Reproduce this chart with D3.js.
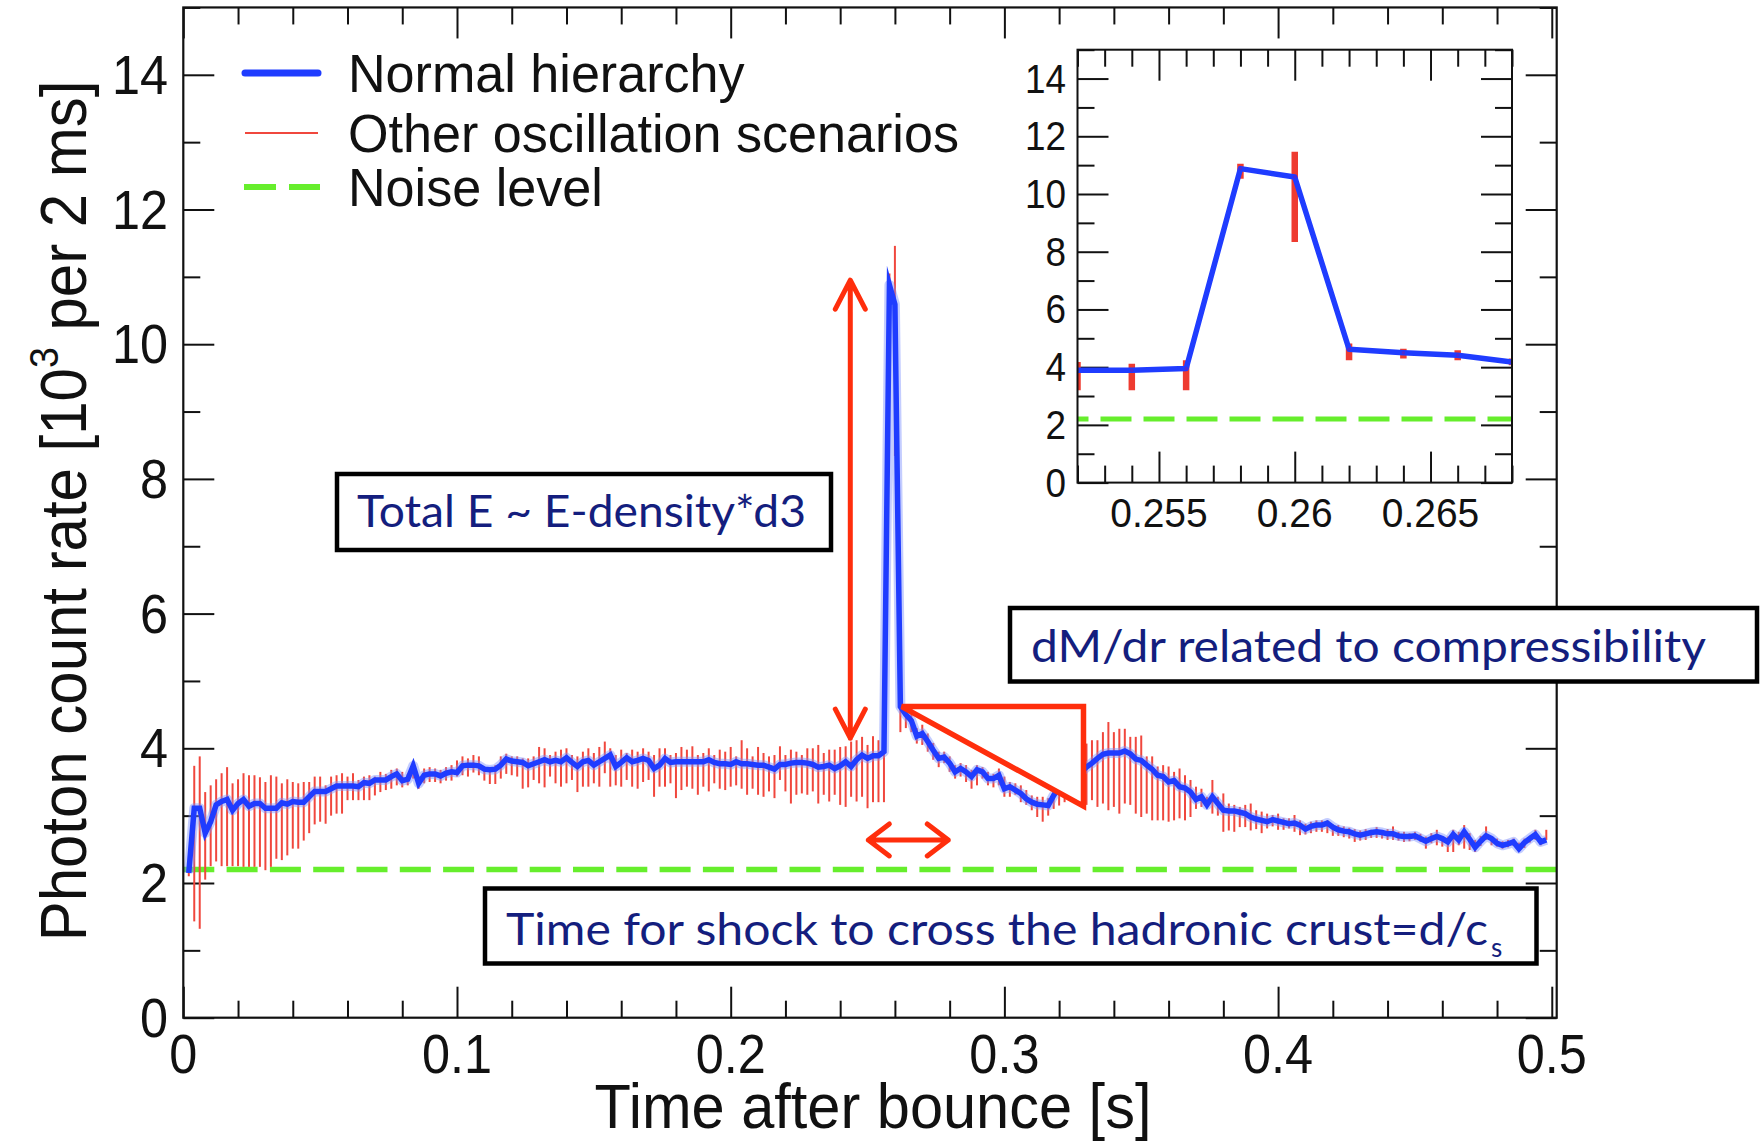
<!DOCTYPE html>
<html>
<head>
<meta charset="utf-8">
<script src="https://cdn.jsdelivr.net/npm/d3@7"></script>
<style>
  body { margin: 0; background: #fff; }
  svg { display: block; }
</style>
</head>
<body>
<svg id="chart" width="1760" height="1143"></svg>
<script>
// Photon count rate per 2 ms bin (units of 10^3), bins centred from 2 ms to 498 ms after bounce
const binWidth = 0.002;
const photonRate = [
  2.15, 3.11, 3.11, 2.74, 2.91, 3.16, 3.21, 3.24, 3.08, 3.18,
  3.24, 3.14, 3.18, 3.18, 3.11, 3.11, 3.11, 3.19, 3.17, 3.21,
  3.20, 3.20, 3.28, 3.36, 3.36, 3.36, 3.40, 3.44, 3.44, 3.44,
  3.44, 3.43, 3.49, 3.48, 3.53, 3.53, 3.53, 3.58, 3.62, 3.52,
  3.54, 3.74, 3.48, 3.60, 3.62, 3.62, 3.59, 3.63, 3.65, 3.64,
  3.74, 3.75, 3.75, 3.74, 3.69, 3.68, 3.69, 3.75, 3.84, 3.81,
  3.80, 3.79, 3.74, 3.77, 3.80, 3.83, 3.80, 3.82, 3.80, 3.86,
  3.79, 3.73, 3.80, 3.82, 3.75, 3.80, 3.85, 3.90, 3.73, 3.79,
  3.86, 3.80, 3.82, 3.85, 3.82, 3.70, 3.75, 3.85, 3.79, 3.80,
  3.80, 3.80, 3.80, 3.80, 3.80, 3.83, 3.79, 3.77, 3.77, 3.76,
  3.80, 3.77, 3.77, 3.76, 3.75, 3.75, 3.72, 3.69, 3.76, 3.76,
  3.78, 3.79, 3.79, 3.78, 3.76, 3.72, 3.73, 3.75, 3.70, 3.74,
  3.80, 3.73, 3.83, 3.90, 3.85, 3.89, 3.89, 3.95, 10.88, 10.59,
  4.62, 4.50, 4.41, 4.18, 4.22, 4.10, 3.97, 3.85, 3.87, 3.78,
  3.65, 3.70, 3.65, 3.58, 3.68, 3.65, 3.55, 3.55, 3.60, 3.40,
  3.43, 3.38, 3.33, 3.25, 3.20, 3.17, 3.16, 3.15, 3.30, 3.42,
  3.50, 3.55, 3.60, 3.65, 3.72, 3.78, 3.85, 3.91, 3.93, 3.93,
  3.93, 3.96, 3.92, 3.84, 3.82, 3.75, 3.69, 3.60, 3.58, 3.50,
  3.52, 3.43, 3.41, 3.35, 3.24, 3.28, 3.16, 3.28, 3.18, 3.08,
  3.07, 3.07, 3.05, 3.03, 2.98, 2.95, 2.93, 2.91, 2.94, 2.92,
  2.90, 2.88, 2.89, 2.86, 2.80, 2.84, 2.86, 2.86, 2.89, 2.83,
  2.79, 2.77, 2.76, 2.73, 2.71, 2.73, 2.75, 2.76, 2.75, 2.73,
  2.73, 2.70, 2.69, 2.69, 2.70, 2.66, 2.62, 2.66, 2.69, 2.66,
  2.61, 2.72, 2.64, 2.76, 2.65, 2.53, 2.62, 2.70, 2.66, 2.59,
  2.56, 2.58, 2.61, 2.51, 2.60, 2.66, 2.72, 2.61, 2.64
];
// Spread of the other oscillation scenarios in each bin (lower and upper edge)
const rateLow = [
  2.10, 1.43, 1.32, 2.05, 2.25, 2.32, 2.25, 2.25, 2.25, 2.25,
  2.24, 2.24, 2.24, 2.24, 2.19, 2.24, 2.36, 2.34, 2.41, 2.51,
  2.51, 2.63, 2.74, 2.87, 2.91, 2.88, 3.00, 3.03, 3.03, 3.23,
  3.23, 3.23, 3.23, 3.23, 3.30, 3.35, 3.38, 3.40, 3.45, 3.42,
  3.45, 3.55, 3.40, 3.48, 3.50, 3.50, 3.48, 3.52, 3.52, 3.58,
  3.60, 3.58, 3.64, 3.60, 3.52, 3.47, 3.47, 3.55, 3.62, 3.60,
  3.58, 3.40, 3.42, 3.53, 3.48, 3.42, 3.58, 3.48, 3.43, 3.48,
  3.53, 3.35, 3.43, 3.43, 3.48, 3.43, 3.63, 3.43, 3.45, 3.43,
  3.53, 3.43, 3.40, 3.50, 3.53, 3.28, 3.43, 3.43, 3.48, 3.26,
  3.38, 3.43, 3.40, 3.31, 3.43, 3.36, 3.48, 3.40, 3.38, 3.43,
  3.45, 3.40, 3.31, 3.40, 3.31, 3.28, 3.36, 3.26, 3.53, 3.36,
  3.18, 3.31, 3.33, 3.31, 3.36, 3.18, 3.31, 3.21, 3.31, 3.16,
  3.13, 3.28, 3.21, 3.28, 3.11, 3.20, 3.20, 3.20, 10.53, 8.34,
  4.24, 4.30, 4.24, 4.07, 4.05, 3.95, 3.83, 3.72, 3.78, 3.65,
  3.55, 3.58, 3.50, 3.40, 3.45, 3.55, 3.45, 3.42, 3.45, 3.28,
  3.28, 3.31, 3.20, 3.16, 3.08, 2.98, 2.91, 3.00, 3.10, 3.15,
  3.20, 3.25, 3.25, 3.25, 3.16, 3.23, 3.13, 3.18, 3.08, 3.13,
  3.03, 3.18, 3.16, 3.03, 2.98, 3.03, 2.93, 2.93, 2.93, 2.91,
  2.93, 2.96, 2.93, 2.98, 3.10, 3.13, 3.15, 3.03, 3.00, 2.76,
  2.78, 2.76, 2.83, 2.83, 2.78, 2.80, 2.74, 2.81, 2.84, 2.79,
  2.79, 2.81, 2.76, 2.71, 2.72, 2.74, 2.76, 2.76, 2.74, 2.70,
  2.70, 2.68, 2.66, 2.61, 2.63, 2.64, 2.67, 2.67, 2.66, 2.64,
  2.64, 2.63, 2.61, 2.62, 2.64, 2.61, 2.51, 2.59, 2.56, 2.54,
  2.46, 2.46, 2.56, 2.51, 2.49, 2.46, 2.55, 2.64, 2.56, 2.54,
  2.51, 2.53, 2.55, 2.49, 2.52, 2.60, 2.64, 2.56, 2.64
];
const rateHigh = [
  2.20, 3.74, 3.88, 3.35, 3.45, 3.54, 3.63, 3.72, 3.48, 3.54,
  3.63, 3.60, 3.60, 3.57, 3.50, 3.60, 3.58, 3.48, 3.54, 3.50,
  3.48, 3.50, 3.50, 3.58, 3.58, 3.45, 3.58, 3.60, 3.63, 3.58,
  3.63, 3.53, 3.58, 3.60, 3.58, 3.65, 3.62, 3.68, 3.70, 3.65,
  3.62, 3.80, 3.58, 3.70, 3.72, 3.70, 3.68, 3.72, 3.75, 3.82,
  3.88, 3.85, 3.90, 3.88, 3.72, 3.70, 3.75, 3.88, 3.92, 3.88,
  3.88, 3.85, 3.85, 3.88, 4.02, 4.00, 3.90, 3.95, 3.98, 4.00,
  3.90, 3.88, 3.95, 4.00, 3.93, 4.02, 4.10, 4.00, 3.90, 3.98,
  3.93, 3.98, 3.95, 4.00, 3.95, 3.90, 4.00, 4.00, 3.90, 3.93,
  4.02, 3.98, 4.03, 3.90, 3.93, 4.00, 3.90, 3.98, 3.95, 4.02,
  3.88, 4.12, 4.00, 3.88, 4.02, 3.93, 3.88, 3.90, 4.03, 3.90,
  3.98, 3.95, 3.90, 4.00, 4.00, 4.05, 3.93, 3.98, 3.98, 4.02,
  4.03, 4.10, 4.12, 4.17, 4.05, 4.18, 4.12, 4.24, 11.05, 11.46,
  4.82, 4.64, 4.59, 4.30, 4.35, 4.22, 4.08, 3.95, 3.95, 3.88,
  3.75, 3.78, 3.75, 3.68, 3.75, 3.72, 3.65, 3.62, 3.70, 3.58,
  3.50, 3.48, 3.45, 3.38, 3.30, 3.28, 3.28, 3.26, 3.40, 3.60,
  3.75, 3.85, 3.95, 4.05, 4.07, 4.12, 4.12, 4.24, 4.39, 4.24,
  4.29, 4.29, 4.17, 4.17, 4.19, 3.88, 3.88, 3.73, 3.75, 3.73,
  3.65, 3.70, 3.60, 3.53, 3.43, 3.40, 3.28, 3.53, 3.28, 3.33,
  3.18, 3.16, 3.13, 3.16, 3.18, 3.08, 3.06, 3.03, 3.01, 3.03,
  2.96, 2.96, 3.01, 2.93, 2.88, 2.91, 2.93, 2.93, 2.93, 2.87,
  2.86, 2.84, 2.82, 2.80, 2.78, 2.80, 2.79, 2.83, 2.78, 2.80,
  2.84, 2.76, 2.76, 2.74, 2.76, 2.73, 2.69, 2.74, 2.79, 2.69,
  2.69, 2.79, 2.76, 2.86, 2.74, 2.64, 2.70, 2.84, 2.69, 2.66,
  2.62, 2.64, 2.66, 2.60, 2.66, 2.70, 2.79, 2.66, 2.79
];
const noiseLevel = 2.2;

// Axis ticks and labels
const xMajorTicks = [0, 0.1, 0.2, 0.3, 0.4, 0.5];
const xTickLabels = ["0", "0.1", "0.2", "0.3", "0.4", "0.5"];
const yMajorTicks = [0, 2, 4, 6, 8, 10, 12, 14];
const yTickLabels = ["0", "2", "4", "6", "8", "10", "12", "14"];
const insetWindow = [0.252, 0.268];
const insetXMajorTicks = [0.255, 0.26, 0.265];
const insetXTickLabels = ["0.255", "0.26", "0.265"];

const legendLabels = ["Normal hierarchy", "Other oscillation scenarios", "Noise level"];
const noteTexts = ["Total E ~ E-density*d3", "dM/dr related to compressibility",
                   "Time for shock to cross the hadronic crust=d/c"];

const BLUE = "#1f3cff", BLUE_HALO = "#7d90ff", ERR = "#f0473d",
      ARROW = "#ff2e0c", GREEN = "#66ee2c", NAVY = "#141e7e", INK = "#111";
const AXIS_FONT = "'Liberation Sans', Arial, Helvetica, sans-serif";
const NOTE_FONT = "Lato, 'Noto Sans', sans-serif";
const SQUASH = 0.9;

const svg = d3.select("#chart");
const rows = photonRate.map((v, i) => ({
  t: +((i + 1) * binWidth).toFixed(3), v, lo: rateLow[i], hi: rateHigh[i]
}));

// ---- main panel scales
const x = d3.scaleLinear().domain([0, 0.5018]).range([183.3, 1556.7]);
const y = d3.scaleLinear().domain([0, 15]).range([1017.7, 7.45]);
const [X0, X1] = x.range(), [Y0, Y1] = y.range();

function label(g, px, py, str, size, anchor, sx = SQUASH, family = AXIS_FONT, fill = INK) {
  return g.append("text")
    .attr("transform", `translate(${px},${py}) scale(${sx},1)`)
    .attr("text-anchor", anchor)
    .attr("font-family", family)
    .attr("font-size", size)
    .attr("fill", fill)
    .text(str);
}

function ticks(g, scale, side, values, len, pos) {
  const make = { bottom: d3.axisBottom, top: d3.axisTop, left: d3.axisLeft, right: d3.axisRight }[side];
  const ax = make(scale).tickValues(values).tickSizeInner(-len).tickSizeOuter(0).tickFormat("");
  const tr = (side === "bottom" || side === "top") ? `translate(0,${pos})` : `translate(${pos},0)`;
  const a = g.append("g").attr("transform", tr).call(ax);
  a.select(".domain").remove();
  a.selectAll("line").attr("stroke", INK).attr("stroke-width", 2);
}

function minorOf(lo, hi, step, majors) {
  return d3.range(Math.round(lo / step), Math.round(hi / step) + 1)
    .map(k => +(k * step).toFixed(4))
    .filter(v => v >= lo - 1e-9 && v <= hi + 1e-9 && !majors.some(m => Math.abs(m - v) < 1e-9));
}

const main = svg.append("g");

// ticks on all four sides, pointing inward
const xMinor = minorOf(0, 0.5, 0.02, xMajorTicks);
const yMinor = minorOf(0, 15, 1, yMajorTicks);
ticks(main, x, "bottom", xMajorTicks, 31, Y0);
ticks(main, x, "bottom", xMinor, 17, Y0);
ticks(main, x, "top", xMajorTicks, 31, Y1);
ticks(main, x, "top", xMinor, 17, Y1);
ticks(main, y, "left", yMajorTicks, 31, X0);
ticks(main, y, "left", yMinor, 17, X0);
ticks(main, y, "right", yMajorTicks, 31, X1);
ticks(main, y, "right", yMinor, 17, X1);

// noise level
main.append("line")
  .attr("x1", X0).attr("x2", X1).attr("y1", y(noiseLevel)).attr("y2", y(noiseLevel))
  .attr("stroke", GREEN).attr("stroke-width", 5.5).attr("stroke-dasharray", "31 12.3");

// spread of the other scenarios
main.append("g").selectAll("line").data(rows).join("line")
  .attr("x1", d => x(d.t)).attr("x2", d => x(d.t))
  .attr("y1", d => y(d.lo)).attr("y2", d => y(d.hi))
  .attr("stroke", ERR).attr("stroke-width", 2);

// normal hierarchy
const line = d3.line().x(d => x(d.t)).y(d => y(d.v));
main.append("path").datum(rows).attr("d", line)
  .attr("fill", "none").attr("stroke", BLUE_HALO).attr("stroke-width", 10)
  .attr("stroke-opacity", 0.45).attr("stroke-linejoin", "round");
main.append("path").datum(rows).attr("d", line)
  .attr("fill", "none").attr("stroke", BLUE).attr("stroke-width", 5.5)
  .attr("stroke-linejoin", "miter").attr("stroke-miterlimit", 10);

// frame
main.append("rect").attr("x", X0).attr("y", Y1).attr("width", X1 - X0).attr("height", Y0 - Y1)
  .attr("fill", "none").attr("stroke", INK).attr("stroke-width", 2.2);

// tick labels
xMajorTicks.forEach((v, i) => label(main, x(v), 1073, xTickLabels[i], 56, "middle"));
yMajorTicks.forEach((v, i) => label(main, 168, y(v) + 19, yTickLabels[i], 56, "end"));

// axis titles
const yt = main.append("text")
  .attr("transform", `translate(86,511) rotate(-90) scale(0.937,1)`)
  .attr("text-anchor", "middle").attr("font-family", AXIS_FONT).attr("font-size", 64).attr("fill", INK);
yt.append("tspan").text("Photon count rate [10");
yt.append("tspan").attr("dy", -28).attr("font-size", 40).text("3");
yt.append("tspan").attr("dy", 28).text(" per 2 ms]");
label(main, 873, 1128, "Time after bounce [s]", 63, "middle", 0.945);

// ---- legend
const lg = svg.append("g");
const legY = [73, 133, 187];
lg.append("line").attr("x1", 245).attr("x2", 318).attr("y1", legY[0]).attr("y2", legY[0])
  .attr("stroke", BLUE).attr("stroke-width", 7).attr("stroke-linecap", "round");
lg.append("line").attr("x1", 245).attr("x2", 318).attr("y1", legY[1]).attr("y2", legY[1])
  .attr("stroke", ERR).attr("stroke-width", 1.8);
lg.append("line").attr("x1", 244).attr("x2", 320).attr("y1", legY[2]).attr("y2", legY[2])
  .attr("stroke", GREEN).attr("stroke-width", 6).attr("stroke-dasharray", "32 13");
legendLabels.forEach((s, i) => label(lg, 348, legY[i] + 19, s, 54, "start", 0.965));

// ---- annotations
const ann = svg.append("g");
// slope triangle after the peak (white interior hides the curve beneath)
const tri = [[0.2625, 4.62], [0.3289, 4.62], [0.3289, 3.14]];
ann.append("path")
  .attr("d", "M" + tri.map(p => [x(p[0]), y(p[1])].join(",")).join("L") + "Z")
  .attr("fill", "#fff").attr("stroke", ARROW).attr("stroke-width", 5.5).attr("stroke-linejoin", "miter");

function doubleArrow(g, p1, p2, armBack, armSide) {
  const dx = p2[0] - p1[0], dy = p2[1] - p1[1], L = Math.hypot(dx, dy);
  const ux = dx / L, uy = dy / L, nx = -uy, ny = ux;
  const head = (p, s) => `M${p[0] + s * ux * armBack + nx * armSide},${p[1] + s * uy * armBack + ny * armSide}` +
                         `L${p[0]},${p[1]}L${p[0] + s * ux * armBack - nx * armSide},${p[1] + s * uy * armBack - ny * armSide}`;
  g.append("path")
    .attr("d", `M${p1[0]},${p1[1]}L${p2[0]},${p2[1]}` + head(p1, 1) + head(p2, -1))
    .attr("fill", "none").attr("stroke", ARROW).attr("stroke-width", 5)
    .attr("stroke-linecap", "round").attr("stroke-linejoin", "round");
}
// height of the burst
doubleArrow(ann, [x(0.2437), y(10.95)], [x(0.2437), y(4.15)], 29, 15);
// duration of the burst
doubleArrow(ann, [x(0.2503), y(2.64)], [x(0.2795), y(2.64)], 21, 16);

function noteBox(g, bx, by, bw, bh, tx, ty, str, len) {
  g.append("rect").attr("x", bx).attr("y", by).attr("width", bw).attr("height", bh)
    .attr("fill", "#fff").attr("stroke", "#000").attr("stroke-width", 4.5);
  return g.append("text").attr("x", tx).attr("y", ty)
    .attr("font-family", NOTE_FONT).attr("font-size", 44).attr("fill", NAVY)
    .attr("textLength", len).attr("lengthAdjust", "spacingAndGlyphs").text(str);
}
noteBox(ann, 337, 474, 494, 76, 357, 527, noteTexts[0], 449);
noteBox(ann, 1010, 608, 747, 73.5, 1031, 662, noteTexts[1], 675);
noteBox(ann, 485, 888.5, 1051.5, 75, 506, 945, noteTexts[2], 982);
ann.append("text").attr("x", 1491).attr("y", 957)
  .attr("font-family", NOTE_FONT).attr("font-size", 26).attr("fill", NAVY).text("s");

// ---- inset: zoom on the burst
const xi = d3.scaleLinear().domain(insetWindow).range([1077.5, 1512]);
const yi = d3.scaleLinear().domain([0, 15]).range([482.6, 49.7]);
const [IX0, IX1] = xi.range(), [IY0, IY1] = yi.range();
const inset = svg.append("g");
inset.append("rect").attr("x", IX0).attr("y", IY1).attr("width", IX1 - IX0).attr("height", IY0 - IY1)
  .attr("fill", "#fff");
svg.append("defs").append("clipPath").attr("id", "insetClip")
  .append("rect").attr("x", IX0).attr("y", IY1).attr("width", IX1 - IX0).attr("height", IY0 - IY1);

const iMinor = minorOf(0.252, 0.268, 0.001, insetXMajorTicks);
ticks(inset, xi, "bottom", insetXMajorTicks, 31, IY0);
ticks(inset, xi, "bottom", iMinor, 17, IY0);
ticks(inset, xi, "top", insetXMajorTicks, 31, IY1);
ticks(inset, xi, "top", iMinor, 17, IY1);
ticks(inset, yi, "left", yMajorTicks, 31, IX0);
ticks(inset, yi, "left", yMinor, 17, IX0);
ticks(inset, yi, "right", yMajorTicks, 31, IX1);
ticks(inset, yi, "right", yMinor, 17, IX1);

const inRows = rows.filter(d => d.t >= insetWindow[0] - 1e-9 && d.t <= insetWindow[1] + 1e-9);
const ip = inset.append("g").attr("clip-path", "url(#insetClip)");
ip.append("line").attr("x1", IX0).attr("x2", IX1).attr("y1", yi(noiseLevel)).attr("y2", yi(noiseLevel))
  .attr("stroke", GREEN).attr("stroke-width", 5).attr("stroke-dasharray", "31 12").attr("stroke-dashoffset", 20);
ip.selectAll(".ebar").data(inRows).join("line")
  .attr("x1", d => xi(d.t)).attr("x2", d => xi(d.t))
  .attr("y1", d => yi(d.lo)).attr("y2", d => yi(d.hi))
  .attr("stroke", "#ee3b30").attr("stroke-width", 6.5);
const iline = d3.line().x(d => xi(d.t)).y(d => yi(d.v));
ip.append("path").datum(inRows).attr("d", iline)
  .attr("fill", "none").attr("stroke", BLUE).attr("stroke-width", 5.5).attr("stroke-linejoin", "round");
ip.selectAll("circle").data(inRows).join("circle")
  .attr("cx", d => xi(d.t)).attr("cy", d => yi(d.v)).attr("r", 1.8).attr("fill", "#4b2bd6");
inset.append("rect").attr("x", IX0).attr("y", IY1).attr("width", IX1 - IX0).attr("height", IY0 - IY1)
  .attr("fill", "none").attr("stroke", INK).attr("stroke-width", 2);

insetXMajorTicks.forEach((v, i) => label(inset, xi(v), 527, insetXTickLabels[i], 41, "middle", 0.95));
yMajorTicks.forEach((v, i) => label(inset, 1066, yi(v) + 14, yTickLabels[i], 41, "end"));
</script>
</body>
</html>
